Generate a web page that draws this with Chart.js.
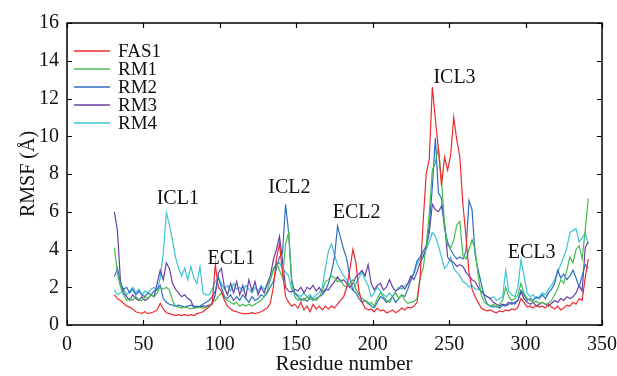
<!DOCTYPE html>
<html>
<head>
<meta charset="utf-8">
<script src="https://cdn.jsdelivr.net/npm/chart.js@4/dist/chart.umd.min.js"></script>
<style>
  html, body { margin: 0; padding: 0; background: #fff; }
  #wrap { width: 617px; height: 376px; }
</style>
</head>
<body>
<div id="wrap"><canvas id="rmsf-chart" width="617" height="376"></canvas></div>
<script>
// residues 31..341, every 2nd residue
const firstResidue = 31;
const residueStep = 2;

const fas1 = [
  1.6, 1.4, 1.3, 1.15, 1.0, 0.95, 0.85, 0.7, 0.65, 0.62,
  0.7, 0.6, 0.65, 0.7, 0.8, 1.15, 0.85, 0.65, 0.6, 0.55,
  0.5, 0.55, 0.5, 0.55, 0.5, 0.55, 0.5, 0.6, 0.65, 0.7,
  0.85, 0.95, 1.15, 3.2, 2.0, 1.8, 1.3, 1.0, 0.85, 0.75,
  0.7, 0.65, 0.6, 0.6, 0.6, 0.65, 0.6, 0.65, 0.7, 0.8,
  0.9, 1.15, 2.0, 3.5, 4.3, 2.8, 1.5, 1.2, 1.0, 1.1,
  0.9, 1.2, 0.8, 1.0, 0.7, 1.1, 0.85, 1.0, 0.8, 1.0,
  0.85, 1.0, 0.9, 1.1, 1.3, 1.5, 2.0, 2.9, 4.0, 3.3,
  1.8, 1.2, 0.9, 0.8, 0.85, 0.7, 0.9, 0.75, 0.8, 0.65,
  0.7, 0.8, 0.65, 0.75, 0.9, 0.8, 0.95, 0.9, 1.0, 1.2,
  2.5, 5.5, 8.0, 8.8, 12.6, 10.9, 9.3, 7.4, 8.9, 8.2,
  9.0, 11.0, 9.8, 8.9, 6.4, 4.7, 2.8, 1.9, 1.5, 1.2,
  0.9, 0.8, 0.75, 0.8, 0.7, 0.65, 0.75, 0.7, 0.8, 0.75,
  0.85, 0.8, 0.95, 1.4, 1.2, 0.95, 1.0, 0.9, 1.05, 0.95,
  1.0, 0.9, 1.1, 0.95, 0.85, 1.0, 0.8, 0.9, 1.05, 1.0,
  1.2, 1.1, 1.4, 1.3, 2.5, 3.5
];

const rm1 = [
  4.1, 2.75, 2.0, 1.6, 1.3, 1.4, 1.3, 1.5, 1.35, 1.3,
  1.5, 1.4, 1.6, 1.5, 1.7, 2.0, 1.9, 2.0, 1.85, 1.3,
  1.0, 0.95, 0.9, 0.95, 0.9, 0.85, 0.9, 0.9, 0.95, 0.9,
  0.95, 1.0, 1.2, 1.3, 1.5, 1.7, 1.4, 1.3, 1.2, 1.1,
  1.2, 1.0, 1.1, 1.0, 1.1, 1.0, 1.1, 1.2, 1.3, 1.5,
  1.8, 2.4, 2.9, 3.3, 2.9, 2.5, 4.3, 4.9, 2.2, 1.5,
  1.3, 1.4, 1.3, 1.5, 1.35, 1.4, 1.3, 1.5, 1.8, 2.3,
  2.4, 2.6, 2.5, 2.3, 2.4, 2.1, 2.0, 2.2, 2.4, 1.9,
  1.6, 1.4, 1.3, 1.1, 1.2, 1.0, 1.4, 1.7, 1.5, 1.3,
  1.2, 1.5, 1.7, 1.4, 1.6, 1.3, 1.15, 1.2, 1.25, 1.4,
  2.5, 3.0, 4.2, 5.9, 8.2, 8.6, 9.4, 7.7, 5.3, 4.2,
  4.1, 4.5, 5.3, 5.5, 3.7, 3.5, 4.0, 4.5, 4.0, 2.6,
  1.6, 1.2, 1.1, 1.0, 1.1, 0.95, 1.1, 1.3, 2.0, 1.5,
  1.3, 1.4, 1.6, 2.2, 1.7, 1.4, 1.3, 1.2, 1.25, 1.15,
  1.2, 1.1, 1.15, 1.3, 1.6, 1.9, 2.4, 2.2, 2.9, 3.6,
  3.3, 4.0, 4.2, 3.5, 5.0, 6.7
];

const rm2 = [
  2.55, 3.0, 2.2, 1.9, 2.0, 1.7, 1.9, 1.6, 1.8, 1.6,
  1.5, 1.7, 1.6, 1.8, 1.9, 2.1, 1.4, 1.2, 1.1, 1.05,
  1.0, 1.05, 1.0, 0.95, 1.0, 1.05, 1.0, 0.95, 1.0, 1.1,
  1.2, 1.3, 1.5, 1.8, 2.55, 2.0, 1.5, 1.4, 1.6, 1.3,
  1.5, 1.3, 1.6, 1.4, 1.2, 1.5, 1.3, 1.4, 1.6, 1.5,
  1.7, 2.0, 2.3, 3.0, 3.6, 3.8, 6.4, 4.9, 2.4, 1.7,
  1.5, 1.3, 1.4, 1.25, 1.5, 1.3, 1.4, 1.5, 1.6, 1.8,
  2.2, 2.8, 3.6, 5.25, 4.6, 4.0, 3.5, 2.5, 1.85, 1.7,
  1.4, 1.2, 1.3, 1.2, 1.0, 0.9, 1.2, 1.5, 1.4, 1.2,
  1.3, 1.5, 1.2, 1.4, 1.6, 1.5, 1.9, 2.4, 2.8, 3.4,
  3.6, 3.9, 4.2, 5.2, 7.3, 9.9, 7.0, 6.7, 5.1, 4.4,
  4.0, 3.7, 3.5, 3.6, 3.5, 3.9, 6.6, 6.1, 3.7, 2.9,
  2.2, 1.5, 1.1, 1.0, 0.95, 1.0, 0.9, 1.05, 1.0, 1.1,
  1.2, 1.1, 1.3, 1.85, 1.6, 1.3, 1.4, 1.3, 1.5, 1.4,
  1.6, 1.4, 1.7, 1.9, 2.2, 2.9, 2.5, 2.7, 2.4, 2.6,
  2.9, 2.5, 2.0, 2.6, 3.2, 3.0
];

const rm3 = [
  6.0, 5.0, 2.3, 1.7, 1.5, 1.3, 1.6, 1.4, 1.3, 1.5,
  1.3, 1.4, 1.6, 1.5, 2.2, 2.9, 2.4, 3.3, 3.0, 2.2,
  1.9, 1.7, 1.5, 1.6, 1.4, 1.3, 0.9, 1.0, 0.95, 1.0,
  1.0, 1.05, 1.1, 1.6, 2.75, 3.0, 2.0, 1.6, 2.2, 1.7,
  2.3, 1.6, 2.1, 1.5, 2.4, 1.8, 2.3, 1.6, 2.0, 1.7,
  2.2, 2.6, 3.45, 4.0, 4.7, 3.4, 2.0, 1.8, 1.75, 1.9,
  1.8, 2.0, 1.7, 2.0, 1.9, 2.1, 1.8, 2.0, 1.7, 1.9,
  1.85, 2.1, 2.3, 2.55, 2.3, 2.4, 2.2, 2.0, 2.2, 2.55,
  2.7, 2.9, 2.6, 3.2, 2.2, 1.85, 2.1, 2.2, 1.85, 2.0,
  2.4, 2.0, 1.8, 1.9, 2.1, 1.9, 2.2, 2.6, 2.4, 2.8,
  3.3, 3.6, 4.1, 4.9, 6.4, 6.1, 6.0, 6.3, 5.4, 3.6,
  3.4, 3.3, 3.1, 3.2, 3.1, 2.8, 2.6, 2.4, 2.3, 2.0,
  1.8, 1.6, 1.5, 1.4, 1.2, 1.1, 1.0, 1.1, 1.05, 1.2,
  1.1, 1.2, 1.3, 1.75, 1.4, 1.2, 1.1, 1.2, 1.0, 1.1,
  1.2, 1.1, 1.0, 1.15, 1.3, 1.2, 1.4, 1.3, 1.5, 1.4,
  1.5, 1.7, 2.1, 1.8, 4.1, 4.4
];

const rm4 = [
  1.85, 1.6, 1.7, 1.9, 1.6, 1.8, 2.0, 1.7, 1.9, 1.6,
  1.8, 1.7, 1.9, 2.0, 1.8, 2.5, 3.8, 5.95, 5.3, 4.5,
  3.6, 3.0, 2.6, 3.0, 2.4, 3.1, 2.5, 2.2, 3.1, 1.7,
  1.6, 1.6, 1.9, 2.3, 2.5, 2.2, 1.9, 2.1, 1.8, 2.2,
  1.9, 2.0, 1.8, 2.1, 1.9, 1.7, 2.0, 1.8, 2.1, 1.9,
  2.1, 2.4, 3.0, 3.2, 3.3, 3.0, 2.8, 2.6, 1.85, 1.7,
  1.6, 1.5, 1.7, 1.5, 1.6, 1.4, 1.6, 1.7, 2.0, 3.0,
  3.9, 4.3, 3.7, 3.2, 2.9, 2.6, 2.4, 2.0, 1.85, 2.2,
  2.5, 2.8, 2.4, 2.1, 1.5, 1.7, 2.0, 1.8, 1.6, 1.5,
  1.7, 1.5, 1.8, 2.0, 1.9, 2.1, 2.2, 2.4, 2.7, 3.2,
  3.5, 3.7, 4.0, 4.4, 4.9, 4.7, 4.2, 3.6, 3.0, 3.2,
  3.6, 3.0, 2.8, 2.6, 2.3, 2.2, 2.0, 2.1, 1.9, 1.9,
  1.8, 1.6, 1.5, 1.4, 1.5, 1.3, 1.4, 1.5, 2.9, 1.8,
  1.6, 1.5, 2.0, 3.45, 2.6, 1.7, 1.5, 1.6, 1.4, 1.5,
  1.7, 1.6, 1.9, 2.1, 2.4, 2.8, 3.2, 3.6, 4.1, 4.9,
  5.0, 5.1, 4.4, 4.6, 4.9, 4.3
];

const seriesNames = ["FAS1", "RM1", "RM2", "RM3", "RM4"];
const seriesColors = ["#ee2a2f", "#44bd4f", "#2f6fc0", "#6a3fa5", "#3cc3d6"];

// loop names and where their labels sit (residue, RMSF)
const loopNames = ["ICL1", "ECL1", "ICL2", "ECL2", "ICL3", "ECL3"];
const loopX = [72.5, 107.5, 145.5, 189.5, 253.5, 304];
const loopY = [6.4, 3.25, 7.0, 5.65, 12.8, 3.55];

const xTicks = [0, 50, 100, 150, 200, 250, 300, 350];
const yTicks = [0, 2, 4, 6, 8, 10, 12, 14, 16];
const xTitle = "Residue number";

const fontFamily = "'Liberation Serif', 'Times New Roman', serif";

const allSeries = [fas1, rm1, rm2, rm3, rm4];
const residues = fas1.map((v, i) => firstResidue + i * residueStep);

// frame with inward ticks on all four sides, plus labels and legend
const framePlugin = {
  id: "frame",
  afterDraw(chart) {
    const { ctx, chartArea: a, scales } = chart;
    ctx.save();
    ctx.strokeStyle = "#000";
    ctx.lineWidth = 1.5;
    ctx.strokeRect(a.left, a.top, a.right - a.left, a.bottom - a.top);
    ctx.lineWidth = 1.2;
    ctx.beginPath();
    xTicks.forEach((t) => {
      const px = Math.round(scales.x.getPixelForValue(t)) + 0.5;
      ctx.moveTo(px, a.bottom); ctx.lineTo(px, a.bottom - 5);
      ctx.moveTo(px, a.top); ctx.lineTo(px, a.top + 5);
    });
    yTicks.forEach((t) => {
      const py = Math.round(scales.y.getPixelForValue(t)) + 0.5;
      ctx.moveTo(a.left, py); ctx.lineTo(a.left + 5, py);
      ctx.moveTo(a.right, py); ctx.lineTo(a.right - 5, py);
    });
    ctx.stroke();

    // loop labels
    ctx.fillStyle = "#111";
    ctx.font = "20px " + fontFamily;
    ctx.textAlign = "center";
    ctx.textBaseline = "alphabetic";
    loopNames.forEach((name, i) => {
      ctx.fillText(name, scales.x.getPixelForValue(loopX[i]), scales.y.getPixelForValue(loopY[i]));
    });

    // x axis title
    ctx.font = "21px " + fontFamily;
    ctx.textBaseline = "middle";
    ctx.fillText(xTitle, 344, 364);

    // legend in the top-left corner
    ctx.textAlign = "left";
    ctx.font = "19px " + fontFamily;
    chart.data.datasets.forEach((ds, i) => {
      const y = 51 + i * 18;
      ctx.strokeStyle = ds.borderColor;
      ctx.lineWidth = 1.5;
      ctx.beginPath();
      ctx.moveTo(74, y); ctx.lineTo(110, y);
      ctx.stroke();
      ctx.fillStyle = "#111";
      ctx.fillText(ds.label, 118, y + 1);
    });
    ctx.restore();
  },
};

new Chart(document.getElementById("rmsf-chart"), {
  type: "line",
  data: {
    datasets: allSeries.map((vals, i) => ({
      label: seriesNames[i],
      data: vals.map((v, j) => ({ x: residues[j], y: v })),
      borderColor: seriesColors[i],
      borderWidth: 1.2,
      pointRadius: 0,
      tension: 0,
      fill: false,
    })),
  },
  options: {
    responsive: false,
    animation: false,
    layout: { padding: { left: 0, top: 23, right: 15, bottom: 0 } },
    plugins: { legend: { display: false }, tooltip: { enabled: false } },
    scales: {
      x: {
        type: "linear",
        min: 0,
        max: 350,
        grid: { display: false },
        border: { display: false },
        afterBuildTicks: (scale) => { scale.ticks = xTicks.map((v) => ({ value: v })); },
        afterFit: (scale) => { scale.height = 51; },
        ticks: { color: "#111", font: { family: fontFamily, size: 20 }, padding: 0, maxRotation: 0 },
      },
      y: {
        type: "linear",
        min: 0,
        max: 16,
        grid: { display: false },
        border: { display: false },
        afterBuildTicks: (scale) => { scale.ticks = yTicks.map((v) => ({ value: v })); },
        afterFit: (scale) => { scale.width = 67; },
        ticks: { color: "#111", font: { family: fontFamily, size: 20 }, padding: 0 },
        title: { display: true, text: "RMSF (Å)", color: "#111", font: { family: fontFamily, size: 20 }, padding: { top: 17, bottom: 0 } },
      },
    },
  },
  plugins: [framePlugin],
});
</script>
</body>
</html>
